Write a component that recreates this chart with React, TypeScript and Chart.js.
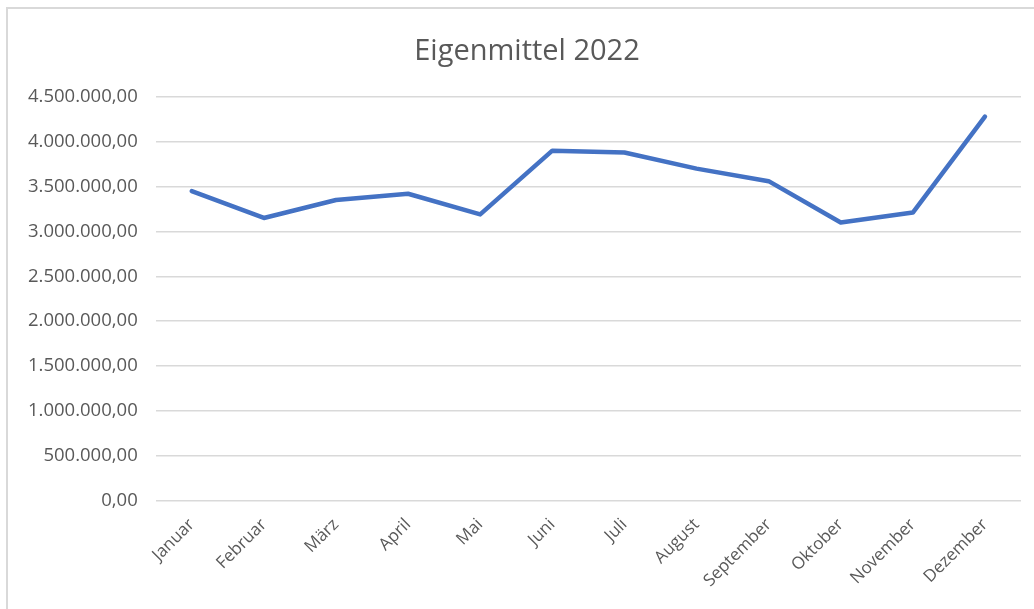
import React, { useEffect, useRef } from "react";
import { Chart, registerables } from "chart.js";

Chart.register(...registerables);

const months = [
  "Januar", "Februar", "März", "April", "Mai", "Juni",
  "Juli", "August", "September", "Oktober", "November", "Dezember",
];
const eigenmittel = [
  3450000, 3150000, 3350000, 3420000, 3190000, 3900000,
  3880000, 3700000, 3560000, 3100000, 3210000, 4280000,
];
const titleText = "Eigenmittel 2022";
const yMin = 0;
const yMax = 4500000;
const yStep = 500000;

const fmt = (v: number) =>
  v.toLocaleString("de-DE", { minimumFractionDigits: 2, maximumFractionDigits: 2 });

export default function App() {
  const ref = useRef<HTMLCanvasElement | null>(null);
  useEffect(() => {
    document.body.style.margin = "0";
    document.body.style.overflow = "hidden";
    if (!ref.current) return;
    const chart = new Chart(ref.current, {
      type: "line",
      data: {
        labels: months,
        datasets: [
          {
            label: titleText,
            data: eigenmittel,
            borderColor: "#4472C4",
            backgroundColor: "#4472C4",
            borderWidth: 4.5,
            pointRadius: 0,
            tension: 0,
            borderJoinStyle: "round",
            borderCapStyle: "round",
          },
        ],
      },
      options: {
        animation: false,
        responsive: false,
        maintainAspectRatio: false,
        layout: { padding: { left: 10, right: 13, top: 96.8, bottom: 4 } },
        plugins: {
          legend: { display: false },
          tooltip: { enabled: false },
          title: { display: false },
        },
        scales: {
          x: {
            offset: true,
            grid: { display: false, drawTicks: false },
            border: { display: false },
            ticks: {
              autoSkip: false,
              maxRotation: 45,
              minRotation: 45,
              padding: 14,
              color: "#595959",
              font: { family: "'Open Sans'", size: 17 },
            },
          },
          y: {
            min: yMin,
            max: yMax,
            grid: { color: "#d9d9d9", lineWidth: 1.5, drawTicks: false },
            border: { display: false },
            ticks: {
              stepSize: yStep,
              padding: 18,
              color: "#595959",
              font: { family: "'Open Sans'", size: 18.5 },
              callback: (v: any) => fmt(Number(v)),
            },
          },
        },
      },
    });
    return () => chart.destroy();
  }, []);
  return (
    <div style={{ position: "fixed", left: 0, top: 0, width: 1034, height: 609, overflow: "hidden", background: "#fff" }}>
      <div
        style={{
          position: "absolute",
          left: 6,
          top: 7,
          width: 1100,
          height: 700,
          borderLeft: "2px solid #d9d9d9",
          borderTop: "2px solid #d9d9d9",
        }}
      />
      <canvas ref={ref} width={1034} height={609} style={{ position: "absolute", left: 0, top: 0 }} />
      <div
        style={{
          position: "absolute",
          left: 0,
          top: 31,
          width: 1054,
          height: 35,
          lineHeight: "35px",
          textAlign: "center",
          fontFamily: "'Open Sans'",
          fontSize: 29,
          color: "#595959",
          whiteSpace: "nowrap",
        }}
      >
        {titleText}
      </div>
    </div>
  );
}
